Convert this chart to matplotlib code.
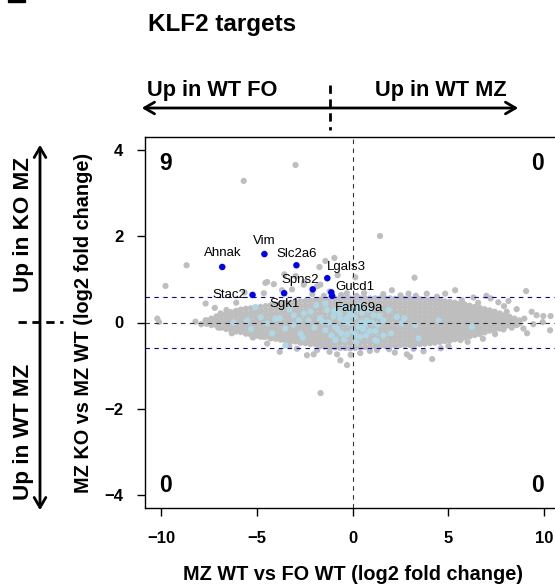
import numpy as np
import matplotlib
matplotlib.use("Agg")
from matplotlib import pyplot as plt
from matplotlib.patches import FancyArrowPatch, Rectangle

plt.rcParams['font.family'] = ['Liberation Sans', 'DejaVu Sans']

W, H = 555, 584

# all genes: points that stand apart from the cloud
gray_x = [-5.68, -2.98, 1.43, -1.67,
          -10.19, -10.1, -8.66, -9.76, -7.67, -7.19, -6.58, -6.07, -6.89, -7.67, -8.2, -5.64,
          -5.64, -4.63, -4.46, -4.11, -3.56, -2.97, -2.52, -1.73, -1.42, -0.95, 0.14, 3.23,
          -3.16, -1.68, -4.55, -2.55, -1.85, -0.78, -3.68, -0.3, -2.1, -1.2,
          9.05, 6.98, 8.13, 8.56, 8.04, 9.34, 9.6, 9.95, 10.33, 8.96, 8.56, 9.43, 9.92, 8.91,
          10.3, 7.87, 7.43, 5.63, 7.6, 5.7, 6.55, 5.35, 2.05, 2.92, 3.87, 4.83,
          7.2, 7.9, 6.3, 4.4, 3.3, 2.5, 1.6, 0.6, 0.2, -0.6, -1.5,
          4.15, 2.83, 3.18, 3.0, 3.7, 5.0, 6.0, 6.8, -3.8, -2.9, -2.03, -0.64, 0.4, 1.27,
          -4.64, -4.46, -2.38, -1.85, -0.81, -0.29, -5.2, -6.3, -1.2, 0.9, 1.9, 2.2, -0.1,
          -3.3, 4.6, -7.0, -7.9, 8.3, 9.1]
gray_y = [3.29, 3.66, 2.01, -1.64,
          0.09, 0.01, 1.33, 0.85, 0.44, 0.34, 0.29, 0.46, 0.21, 0.05, 0.02, -0.14,
          0.7, 0.68, 0.94, 0.89, 1.12, 1.08, 0.94, 1.29, 1.43, 1.5, 1.05, 1.04,
          0.77, 0.88, 0.92, 0.88, 0.84, 1.1, 0.75, 0.68, 0.66, 0.72,
          0.73, 0.62, 0.5, 0.31, 0.25, 0.25, 0.17, 0.15, 0.15, 0.09, -0.06, -0.04, 0.01, -0.14,
          -0.18, -0.16, -0.27, -0.41, 0.47, 0.52, 0.46, 0.75, 0.75, 0.67, 0.67, 0.67,
          0.56, 0.38, 0.58, 0.6, 0.62, 0.63, 0.66, 0.68, 0.62, 0.64, 0.62,
          -0.85, -0.74, -0.61, -0.8, -0.67, -0.55, -0.45, -0.38, -0.68, -0.61, -0.74, -0.88, -0.71, -0.64,
          -0.33, -0.49, -0.76, -0.64, -0.74, -0.99, -0.35, -0.25, -0.68, -0.66, -0.62, -0.7, -0.75,
          -0.55, -0.6, -0.12, -0.04, -0.12, -0.25]

# all genes: dense cloud, one column of y values per x position
core_x = [-7.62, -7.37, -7.1, -6.86, -6.6, -6.35, -6.08, -5.83, -5.57, -5.31,
          -5.05, -4.8, -4.53, -4.27, -4.01, -3.75, -3.49, -3.24, -2.98, -2.72,
          -2.46, -2.2, -1.95, -1.69, -1.43, -1.17, -0.91, -0.65, -0.39, -0.13,
          0.13, 0.39, 0.65, 0.91, 1.17, 1.43, 1.69, 1.95, 2.21, 2.47,
          2.73, 2.99, 3.25, 3.51, 3.77, 4.03, 4.29, 4.55, 4.81, 5.07,
          5.33, 5.59, 5.85, 6.11, 6.37, 6.63, 6.89, 7.15, 7.41, 7.67,
          7.93, 8.19, 8.45, 8.71]
core_y = [
    [0.05, -0.03],
    [0.09, 0.0, -0.06],
    [0.14, 0.04, -0.07],
    [0.17, 0.07, -0.03, -0.12],
    [0.21, 0.1, 0.0, -0.09, -0.15],
    [0.24, 0.13, 0.03, -0.07, -0.17],
    [0.27, 0.17, 0.06, -0.04, -0.13, -0.21],
    [0.3, 0.19, 0.08, -0.02, -0.12, -0.22],
    [0.32, 0.21, 0.11, 0.0, -0.1, -0.19, -0.26],
    [0.33, 0.22, 0.12, 0.02, -0.08, -0.18, -0.28],
    [0.35, 0.24, 0.14, 0.03, -0.07, -0.17, -0.26, -0.31],
    [0.36, 0.26, 0.15, 0.05, -0.05, -0.15, -0.25, -0.33],
    [0.38, 0.27, 0.17, 0.06, -0.04, -0.14, -0.24, -0.33],
    [0.4, 0.29, 0.18, 0.08, -0.03, -0.13, -0.23, -0.32, -0.37],
    [0.42, 0.31, 0.2, 0.1, -0.01, -0.11, -0.21, -0.3, -0.38],
    [0.43, 0.32, 0.22, 0.11, 0.01, -0.09, -0.19, -0.29, -0.37, -0.4],
    [0.45, 0.34, 0.23, 0.13, 0.02, -0.08, -0.18, -0.28, -0.36, -0.42],
    [0.46, 0.35, 0.25, 0.14, 0.03, -0.07, -0.17, -0.27, -0.36, -0.44],
    [0.47, 0.36, 0.26, 0.15, 0.05, -0.06, -0.16, -0.26, -0.35, -0.44],
    [0.49, 0.38, 0.27, 0.17, 0.06, -0.04, -0.14, -0.24, -0.34, -0.43, -0.47],
    [0.5, 0.39, 0.28, 0.18, 0.07, -0.03, -0.13, -0.23, -0.33, -0.42, -0.48],
    [0.51, 0.4, 0.3, 0.19, 0.08, -0.02, -0.12, -0.22, -0.32, -0.41, -0.5],
    [0.52, 0.41, 0.31, 0.2, 0.1, -0.01, -0.11, -0.21, -0.31, -0.41, -0.5],
    [0.53, 0.42, 0.32, 0.21, 0.11, 0.0, -0.1, -0.2, -0.3, -0.4, -0.49, -0.55],
    [0.54, 0.43, 0.33, 0.22, 0.11, 0.01, -0.09, -0.19, -0.29, -0.39, -0.48, -0.56],
    [0.55, 0.44, 0.33, 0.23, 0.12, 0.02, -0.08, -0.18, -0.28, -0.38, -0.48, -0.57],
    [0.55, 0.44, 0.34, 0.23, 0.13, 0.02, -0.08, -0.18, -0.28, -0.38, -0.48, -0.58],
    [0.56, 0.45, 0.34, 0.24, 0.13, 0.03, -0.07, -0.17, -0.28, -0.38, -0.48, -0.59],
    [0.56, 0.45, 0.35, 0.24, 0.14, 0.03, -0.07, -0.17, -0.27, -0.37, -0.48, -0.59],
    [0.56, 0.45, 0.35, 0.24, 0.14, 0.04, -0.06, -0.17, -0.27, -0.37, -0.48, -0.6],
    [0.56, 0.46, 0.35, 0.25, 0.14, 0.04, -0.06, -0.16, -0.27, -0.37, -0.47, -0.59],
    [0.56, 0.46, 0.35, 0.25, 0.15, 0.04, -0.06, -0.16, -0.26, -0.37, -0.47, -0.58],
    [0.56, 0.46, 0.35, 0.25, 0.15, 0.05, -0.05, -0.16, -0.26, -0.36, -0.46, -0.57],
    [0.56, 0.46, 0.36, 0.25, 0.15, 0.05, -0.05, -0.15, -0.26, -0.36, -0.46, -0.56],
    [0.56, 0.46, 0.36, 0.25, 0.15, 0.05, -0.05, -0.15, -0.25, -0.35, -0.45, -0.55],
    [0.56, 0.46, 0.36, 0.26, 0.15, 0.05, -0.05, -0.15, -0.25, -0.35, -0.45, -0.55],
    [0.56, 0.46, 0.36, 0.26, 0.16, 0.06, -0.04, -0.14, -0.24, -0.34, -0.44, -0.54],
    [0.56, 0.46, 0.36, 0.26, 0.16, 0.06, -0.04, -0.14, -0.24, -0.34, -0.44, -0.54],
    [0.55, 0.45, 0.35, 0.25, 0.15, 0.05, -0.05, -0.15, -0.25, -0.35, -0.44, -0.53],
    [0.55, 0.45, 0.35, 0.25, 0.15, 0.05, -0.05, -0.15, -0.24, -0.34, -0.43, -0.53],
    [0.55, 0.45, 0.35, 0.25, 0.15, 0.05, -0.05, -0.14, -0.24, -0.33, -0.43, -0.52],
    [0.55, 0.45, 0.35, 0.25, 0.15, 0.05, -0.04, -0.14, -0.23, -0.33, -0.42, -0.52],
    [0.54, 0.44, 0.34, 0.24, 0.14, 0.05, -0.05, -0.14, -0.24, -0.33, -0.42, -0.51],
    [0.54, 0.44, 0.34, 0.24, 0.14, 0.04, -0.05, -0.15, -0.24, -0.33, -0.42, -0.5],
    [0.53, 0.43, 0.33, 0.23, 0.13, 0.04, -0.06, -0.15, -0.24, -0.33, -0.41, -0.49],
    [0.53, 0.43, 0.33, 0.23, 0.13, 0.03, -0.06, -0.15, -0.24, -0.32, -0.4, -0.48],
    [0.52, 0.42, 0.32, 0.22, 0.12, 0.03, -0.06, -0.15, -0.24, -0.32, -0.4, -0.47],
    [0.51, 0.41, 0.31, 0.21, 0.12, 0.02, -0.07, -0.16, -0.24, -0.32, -0.39, -0.45],
    [0.49, 0.39, 0.3, 0.2, 0.11, 0.02, -0.07, -0.16, -0.24, -0.32, -0.38, -0.43],
    [0.48, 0.38, 0.29, 0.19, 0.1, 0.01, -0.08, -0.16, -0.24, -0.31, -0.38, -0.42],
    [0.46, 0.36, 0.27, 0.18, 0.09, 0.0, -0.08, -0.16, -0.24, -0.31, -0.39],
    [0.44, 0.35, 0.26, 0.17, 0.08, 0.0, -0.09, -0.17, -0.25, -0.33, -0.38],
    [0.42, 0.33, 0.24, 0.15, 0.07, -0.02, -0.1, -0.18, -0.26, -0.34],
    [0.39, 0.3, 0.22, 0.13, 0.05, -0.03, -0.11, -0.19, -0.27, -0.32],
    [0.36, 0.27, 0.19, 0.11, 0.03, -0.05, -0.13, -0.21, -0.29],
    [0.34, 0.25, 0.17, 0.09, 0.01, -0.07, -0.15, -0.23, -0.27],
    [0.31, 0.23, 0.15, 0.07, -0.01, -0.09, -0.17, -0.23],
    [0.28, 0.2, 0.12, 0.04, -0.03, -0.11, -0.19],
    [0.25, 0.17, 0.09, 0.02, -0.06, -0.13, -0.17],
    [0.21, 0.13, 0.06, -0.01, -0.08, -0.14],
    [0.17, 0.1, 0.03, -0.04, -0.1],
    [0.13, 0.06, -0.01, -0.07],
    [0.09, 0.02, -0.05],
    [0.05, -0.02],
]

# KLF2 targets, not significant
target_x = [-5.07, -4.46, -4.03, -3.8, -3.51, -3.07, -2.55, -2.2, -1.42, -1.33,
            -1.0, -0.64, -0.4, -0.12, 0.1, 0.31, 0.75, 1.09, 1.3, 1.88,
            2.31, 1.27, 0.4, -0.29, -0.9, -1.42, -2.0, -2.72, -3.1, 6.22,
            3.44, -0.16, -3.51, 2.57, 3.27, 1.18, -5.5, -4.8, -2.3, -1.7,
            -0.8, 0.5, 0.9, -0.5, 0.2, -1.9, -2.6, 1.6, 2.0, -0.2,
            0.0, 0.6, -1.1, -4.2, -5.3, -6.2, 4.5, -0.7, 0.35, -1.55,
            -0.9, -0.6, -0.3, 0.15, 0.45, 0.7, 1.0, 1.4, 1.6, 0.2,
            -0.45, 0.85, -1.25, 0.55, 1.2, -0.05, 2.7, -2.8, -3.3, -0.95]
target_y = [0.36, -0.02, 0.09, 0.1, -0.14, 0.17, 0.21, 0.25, 0.44, 0.29,
            0.15, 0.09, 0.0, -0.02, 0.12, -0.1, 0.05, 0.17, -0.05, 0.29,
            0.13, -0.43, -0.33, -0.27, -0.41, -0.18, -0.12, -0.26, -0.05, -0.1,
            -0.37, 0.29, -0.53, -0.02, -0.06, -0.41, 0.05, 0.12, 0.05, 0.1,
            -0.15, 0.22, -0.2, 0.35, -0.45, 0.4, -0.35, 0.05, -0.25, 0.15,
            -0.2, -0.05, -0.3, -0.25, -0.15, 0.0, 0.05, 0.22, 0.4, 0.02,
            -0.1, -0.25, 0.1, -0.3, 0.0, -0.3, 0.0, 0.15, -0.3, 0.3,
            -0.4, 0.3, 0.0, -0.15, -0.2, 0.2, 0.1, 0.05, 0.3, 0.28]

# KLF2 targets, significant
sig_genes = ["Ahnak", "Vim", "Slc2a6", "Lgals3", "Spns2", "Gucd1", "Fam69a", "Sgk1", "Stac2"]
sig_x = [-6.8, -4.6, -2.93, -1.32, -2.08, -1.11, -1.07, -3.57, -5.22]
sig_y = [1.29, 1.59, 1.33, 1.03, 0.77, 0.7, 0.62, 0.68, 0.64]

quadrant_counts = ["9", "0", "0", "0"]
fc_cut = np.log2(1.5)

fig = plt.figure(figsize=(W / 100, H / 100), dpi=100)


def fx(px):
    return px / W


def fy(py):
    return 1 - py / H


# the plot box runs past the right edge of the picture
ax = fig.add_axes([fx(145), fy(508), (560.2 - 145) / W, (508 - 137) / H])
ax.set_xlim(-10.83, 10.83)
ax.set_ylim(-4.31, 4.31)

cx = np.concatenate([[x] * len(ys) for x, ys in zip(core_x, core_y)])
cy = np.concatenate(core_y)
ax.scatter(cx, cy, s=20, color='#BEBEBE', edgecolors='none', zorder=2)
ax.scatter(gray_x, gray_y, s=20, color='#BEBEBE', edgecolors='none', zorder=2)
ax.scatter(target_x, target_y, s=20, color='#ADD8E6', edgecolors='none', zorder=3)
ax.scatter(sig_x, sig_y, s=22, color='#0000FF', edgecolors='none', zorder=4)

ax.axhline(fc_cut, color='#0000CC', lw=0.8, ls=(0, (4, 4)), zorder=5)
ax.axhline(-fc_cut, color='#0000CC', lw=0.8, ls=(0, (4, 4)), zorder=5)
ax.axhline(0, color='#333333', lw=0.8, ls=(0, (4, 4)), zorder=5)
ax.axvline(0, color='#333333', lw=0.8, ls=(0, (4, 4)), zorder=5)

# label offsets (points) for each significant gene
offsets = [(0, 10), (0, 9.4), (0.5, 8), (13.7, 8.1), (-9.4, 6.7),
           (16.8, 3.8), (19.7, -8.6), (0.2, -8.1), (-17, 0)]
for name, x, y, off in zip(sig_genes, sig_x, sig_y, offsets):
    ax.annotate(name, (x, y), xytext=off, textcoords='offset points',
                ha='center', va='center', fontsize=9.5, zorder=6)

corner_pos = [(-9.76, 3.7), (9.62, 3.7), (-9.76, -3.78), (9.62, -3.78)]
for txt, (x, y) in zip(quadrant_counts, corner_pos):
    ax.text(x, y, txt, ha='center', va='center', fontsize=16.5, fontweight='bold')

for s in ax.spines.values():
    s.set_linewidth(1.0)
ax.set_xticks([-10, -5, 0, 5, 10])
ax.set_yticks([-4, -2, 0, 2, 4])
ax.tick_params(direction='out', length=5.5, width=1.0, labelsize=12)
ax.tick_params(axis='x', pad=11)
ax.tick_params(axis='y', pad=10)
for lbl in ax.get_xticklabels() + ax.get_yticklabels():
    lbl.set_fontweight('bold')
ax.set_xlabel('MZ WT vs FO WT (log2 fold change)', fontsize=14.3, fontweight='bold', labelpad=14)
ax.set_ylabel('MZ KO vs MZ WT (log2 fold change)', fontsize=14.3, fontweight='bold', labelpad=8)

fig.text(fx(148), fy(25), 'KLF2 targets', fontsize=17.5, fontweight='bold', ha='left', va='center')

# direction arrows outside the plot
arrow_kw = dict(arrowstyle='<->,head_length=0.6,head_width=0.35', lw=2.0, color='black',
                transform=fig.transFigure, mutation_scale=12)
fig.patches.append(FancyArrowPatch((fx(139), fy(108)), (fx(521), fy(108)), **arrow_kw))
fig.patches.append(FancyArrowPatch((fx(40), fy(142)), (fx(40), fy(513)), **arrow_kw))
fig.lines.append(plt.Line2D([fx(330), fx(330)], [fy(85), fy(130)], transform=fig.transFigure,
                            color='black', lw=2.0, ls=(0, (3, 2))))
fig.lines.append(plt.Line2D([fx(18), fx(63)], [fy(322), fy(322)], transform=fig.transFigure,
                            color='black', lw=2.0, ls=(0, (3, 2))))

fig.text(fx(147), fy(90), 'Up in WT FO', fontsize=15.7, fontweight='bold', ha='left', va='center')
fig.text(fx(507), fy(90), 'Up in WT MZ', fontsize=15.7, fontweight='bold', ha='right', va='center')
fig.text(fx(23), fy(225), 'Up in KO MZ', fontsize=16.2, fontweight='bold', ha='center', va='center', rotation=90)
fig.text(fx(23), fy(432), 'Up in WT MZ', fontsize=16.2, fontweight='bold', ha='center', va='center', rotation=90)

# fragment of the panel letter at the top edge
fig.patches.append(Rectangle((fx(8), fy(2)), (25 - 8) / W, 2 / H, transform=fig.transFigure,
                             color='black'))

fig.savefig('out.png', dpi=100)
